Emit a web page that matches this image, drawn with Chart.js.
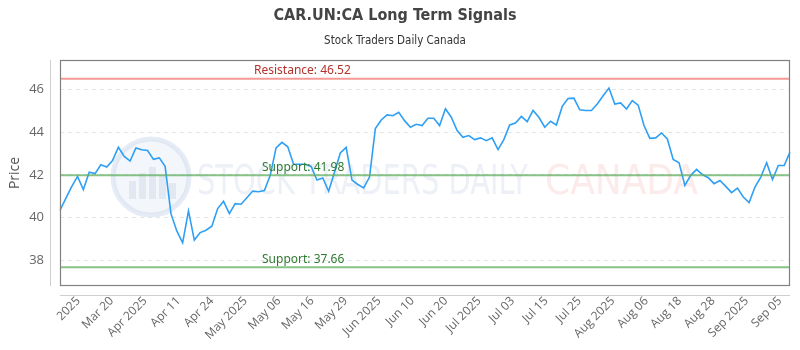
<!DOCTYPE html>
<html><head><meta charset="utf-8">
<script src="https://cdn.jsdelivr.net/npm/chart.js@4.4.0/dist/chart.umd.min.js"></script>
<style>html,body{margin:0;padding:0;background:#fff}#wrap{width:800px;height:350px}</style>
</head><body><div id="wrap"><canvas id="c" width="800" height="350"></canvas></div>
<script>
const prices = [
40.34,40.9,41.45,41.93,41.31,42.13,42.06,42.48,42.37,42.68,
43.30,42.87,42.65,43.27,43.18,43.15,42.73,42.80,42.40,40.18,
39.37,38.81,40.31,38.94,39.29,39.40,39.59,40.42,40.76,40.18,
40.65,40.62,40.93,41.24,41.21,41.27,41.98,43.27,43.53,43.32,
42.50,42.50,42.50,42.40,41.76,41.86,41.23,42.13,43.03,43.29,
41.76,41.55,41.39,41.90,44.18,44.58,44.82,44.78,44.94,44.55,
44.24,44.38,44.32,44.66,44.66,44.32,45.11,44.71,44.08,43.77,
43.85,43.66,43.74,43.61,43.74,43.19,43.66,44.35,44.44,44.75,
44.50,45.03,44.71,44.24,44.52,44.35,45.22,45.59,45.61,45.06,
45.03,45.03,45.33,45.72,46.08,45.33,45.38,45.10,45.49,45.28,
44.32,43.72,43.74,43.97,43.69,42.73,42.57,41.51,41.98,42.26,
42.02,41.87,41.59,41.74,41.46,41.17,41.38,40.96,40.70,41.43,
41.90,42.57,41.78,42.44,42.44,43.07
];
const tickLabels = ["2025","Mar 20","Apr 2025","Apr 11","Apr 24","May 2025","May 06","May 16","May 29","Jun 2025","Jun 10","Jun 20","Jul 2025","Jul 03","Jul 15","Jul 25","Aug 2025","Aug 06","Aug 18","Aug 28","Sep 2025","Sep 05"];
const yTicks = [38, 40, 42, 44, 46];
const levelValues = [46.52, 41.98, 37.66];
const levelNames = ["Resistance", "Support", "Support"];

const levelStyles = [
  {line: 'rgba(240,120,115,0.75)', text: '#b3322b', dx: 194},
  {line: 'rgba(95,175,95,0.75)', text: '#2e7a30', dx: 202},
  {line: 'rgba(95,175,95,0.75)', text: '#2e7a30', dx: 202}
];

const decor = {
  id: 'decor',
  beforeDraw(chart) {
    const ctx = chart.ctx;
    ctx.save();
    ctx.fillStyle = '#fff';
    ctx.fillRect(0, 0, chart.width, chart.height);
    ctx.restore();
  },
  beforeDatasetsDraw(chart) {
    const ctx = chart.ctx, a = chart.chartArea;
    ctx.save();
    const cx = a.left + 91, cy = a.top + 117;
    ctx.beginPath(); ctx.arc(cx, cy, 38, 0, Math.PI * 2);
    ctx.fillStyle = 'rgba(228,234,244,0.45)'; ctx.fill();
    ctx.lineWidth = 5; ctx.strokeStyle = 'rgba(210,220,236,0.55)'; ctx.stroke();
    ctx.fillStyle = 'rgba(205,215,233,0.45)';
    const bars = [[-22,10],[-12,18],[-2,24],[8,16],[18,8]];
    bars.forEach(([bx, h]) => ctx.fillRect(cx + bx, cy + 22 - h - 8, 7, h + 8));
    ctx.font = '40px "DejaVu Sans Condensed", "Liberation Sans", sans-serif';
    ctx.textBaseline = 'alphabetic';
    ctx.fillStyle = 'rgba(210,219,235,0.4)';
    ctx.fillText('STOCK TRADERS DAILY', a.left + 137, a.top + 134, 331);
    ctx.fillStyle = 'rgba(245,175,175,0.25)';
    ctx.fillText('CANADA', a.left + 485, a.top + 134, 157);
    ctx.restore();
  },
  afterDatasetsDraw(chart) {
    const ctx = chart.ctx, a = chart.chartArea, y = chart.scales.y;
    ctx.save();
    levelValues.forEach((v, i) => {
      const py = y.getPixelForValue(v);
      const st = levelStyles[i];
      ctx.beginPath();
      ctx.moveTo(a.left, py); ctx.lineTo(a.right, py);
      ctx.lineWidth = 2; ctx.strokeStyle = st.line; ctx.stroke();
      ctx.font = '12px "Noto Sans", sans-serif';
      ctx.fillStyle = st.text;
      ctx.textBaseline = 'bottom';
      ctx.textAlign = 'left';
      ctx.fillText(levelNames[i] + ': ' + v.toFixed(2), a.left + st.dx, py - 2);
    });
    ctx.lineWidth = 1.2;
    ctx.strokeStyle = '#808080';
    ctx.strokeRect(a.left + 0.5, a.top + 0.5, a.right - a.left - 1, a.bottom - a.top - 1);
    ctx.lineWidth = 1;
    ctx.strokeStyle = '#cfcfcf';
    ctx.beginPath();
    ctx.moveTo(a.left - 9.5, a.top); ctx.lineTo(a.left - 9.5, a.bottom);
    ctx.moveTo(a.left, a.bottom + 9.5); ctx.lineTo(a.right, a.bottom + 9.5);
    ctx.stroke();
    ctx.restore();
  }
};

new Chart(document.getElementById('c'), {
  type: 'line',
  data: {
    labels: prices.map((_, i) => i),
    datasets: [{
      data: prices,
      borderColor: '#2e9ff5',
      borderWidth: 1.6,
      pointRadius: 0,
      tension: 0,
      fill: false
    }]
  },
  options: {
    responsive: false,
    animation: false,
    devicePixelRatio: 1,
    layout: {padding: {left: 0, right: 10, top: 0, bottom: 0}},
    plugins: {
      legend: {display: false},
      tooltip: {enabled: false},
      title: {
        display: true,
        text: 'CAR.UN:CA Long Term Signals',
        color: '#444',
        font: {family: '"DejaVu Sans Condensed", sans-serif', size: 16, weight: 'bold'},
        padding: {top: 6, bottom: 6}
      },
      subtitle: {
        display: true,
        text: 'Stock Traders Daily Canada',
        color: '#333',
        font: {family: '"DejaVu Sans Condensed", sans-serif', size: 11.5},
        padding: {top: 3, bottom: 12}
      }
    },
    scales: {
      x: {display: false},
      x2: {
        type: 'linear',
        position: 'bottom',
        min: -0.55,
        max: 21.3,
        afterBuildTicks: s => { s.ticks = tickLabels.map((_, i) => ({value: i})); },
        afterFit: s => { s.height = 64; },
        grid: {display: false, drawTicks: false},
        border: {display: false},
        ticks: {
          autoSkip: false,
          minRotation: 45,
          maxRotation: 45,
          padding: 8,
          color: '#666',
          font: {family: '"Open Sans", sans-serif', size: 12},
          callback: v => tickLabels[v]
        }
      },
      y: {
        min: 36.78,
        max: 47.4,
        afterBuildTicks: s => { s.ticks = yTicks.map(v => ({value: v})); },
        afterFit: s => { s.width = 60; },
        grid: {color: '#e6e6e6', drawTicks: false},
        border: {display: false, dash: [4, 4]},
        ticks: {
          padding: 16,
          color: '#666',
          font: {family: '"Open Sans", sans-serif', size: 13}
        },
        title: {
          display: true,
          text: 'Price',
          color: '#555',
          font: {family: '"Open Sans", sans-serif', size: 14},
          padding: {top: 7, bottom: 0}
        }
      }
    }
  },
  plugins: [decor]
});
</script>
</body></html>
